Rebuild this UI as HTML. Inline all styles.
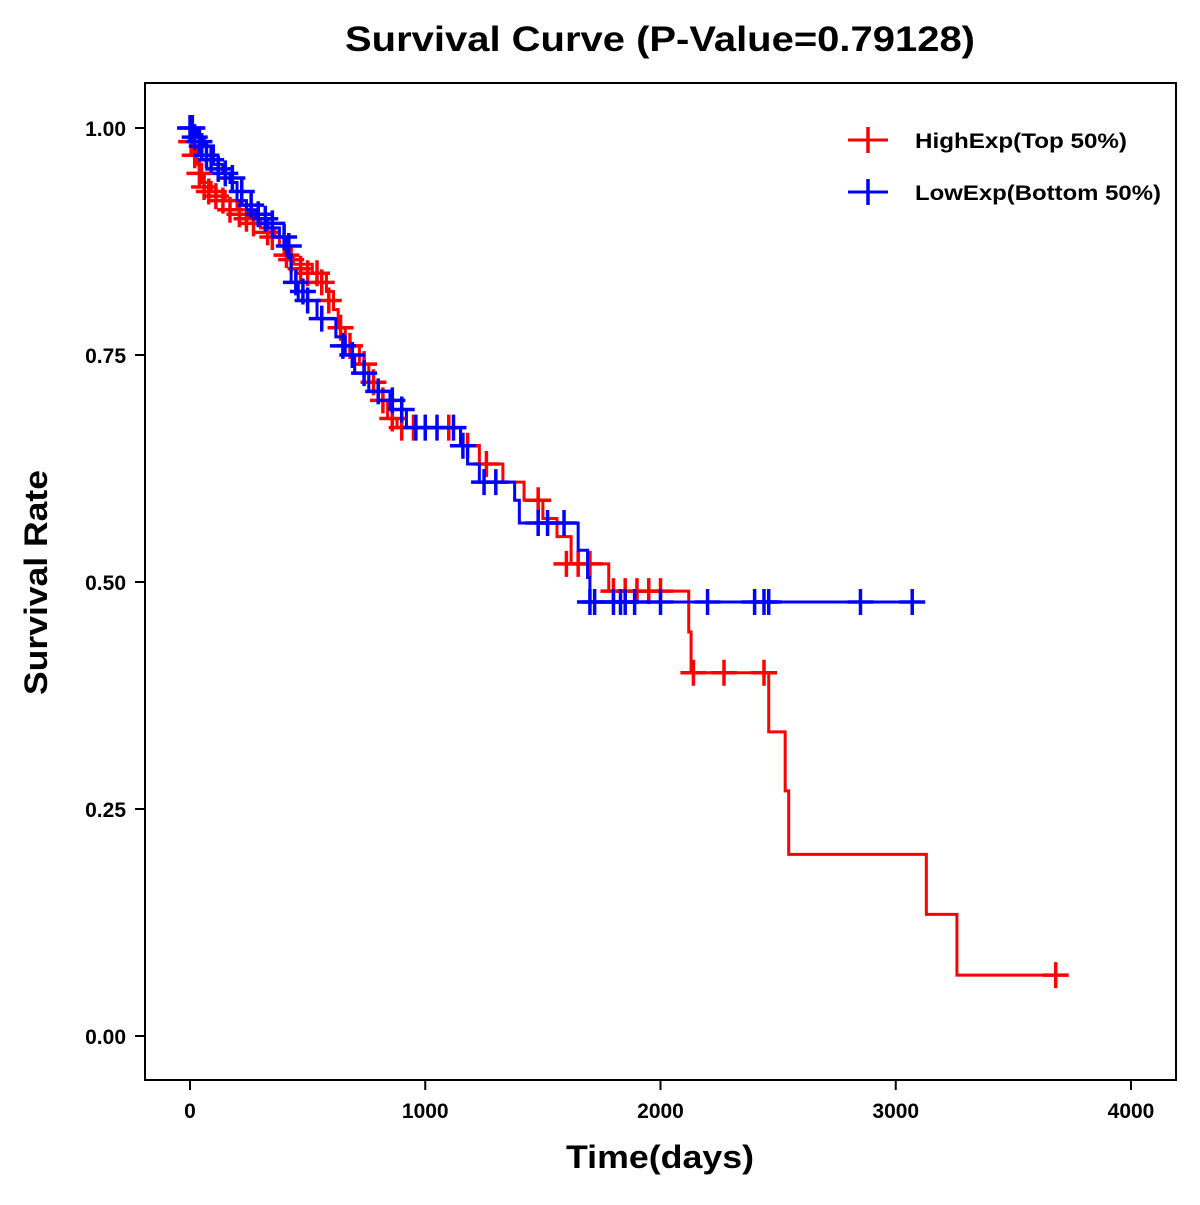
<!DOCTYPE html>
<html><head><meta charset="utf-8"><style>
body{margin:0;background:#fff}
svg text{font-family:"Liberation Sans",Arial,sans-serif;font-weight:bold}
</style></head><body>
<svg id="chart" width="1200" height="1200" xmlns="http://www.w3.org/2000/svg">
<text x="345" y="51" font-size="35" textLength="630" lengthAdjust="spacingAndGlyphs">Survival Curve (P-Value=0.79128)</text>
<rect x="145" y="83" width="1031" height="997" fill="none" stroke="#000" stroke-width="2"/>
<g id="axes"></g>
<g id="series"></g>
<text x="566" y="1168" font-size="32" textLength="188" lengthAdjust="spacingAndGlyphs">Time(days)</text>
<text transform="translate(47,695) rotate(-90)" font-size="32" textLength="225" lengthAdjust="spacingAndGlyphs">Survival Rate</text>
<g>
<g>
<line x1="848" y1="140" x2="888" y2="140" stroke="#f00" stroke-width="3"/><line x1="868" y1="127" x2="868" y2="153" stroke="#f00" stroke-width="3.5"/>
<text x="915" y="148" font-size="21" textLength="212" lengthAdjust="spacingAndGlyphs">HighExp(Top 50%)</text></g>
<g>
<line x1="848" y1="192" x2="888" y2="192" stroke="#00f" stroke-width="3"/><line x1="868" y1="179" x2="868" y2="205" stroke="#00f" stroke-width="3.5"/>
<text x="915" y="200" font-size="21" textLength="246" lengthAdjust="spacingAndGlyphs">LowExp(Bottom 50%)</text></g>
</g>
</svg>
<script>
const xTicks=[0,1000,2000,3000,4000];
const yTicks=[0,0.25,0.5,0.75,1.0];
const yTickLabels=["0.00","0.25","0.50","0.75","1.00"];
const highTimes=[0,10,30,50,90,150,200,250,300,360,380,400,440,520,580,610,630,660,720,760,800,840,880,1150,1230,1330,1420,1500,1560,1620,1780,2120,2130,2460,2530,2545,3130,3260];
const highSurv=[1,0.98,0.96,0.94,0.93,0.92,0.91,0.90,0.89,0.88,0.87,0.86,0.85,0.84,0.82,0.80,0.78,0.76,0.74,0.72,0.70,0.68,0.67,0.65,0.63,0.61,0.59,0.57,0.55,0.52,0.49,0.445,0.40,0.335,0.27,0.20,0.134,0.067];
const highEnd=3680;
const highCensT=[5,20,40,60,80,110,140,170,210,240,270,330,350,410,430,470,500,540,560,590,640,680,740,780,820,860,900,950,1000,1100,1180,1260,1480,1600,1650,1700,1800,1850,1900,1950,2000,2140,2270,2440,3680];
const highCensS=[0.985,0.97,0.95,0.935,0.93,0.925,0.92,0.91,0.905,0.9,0.895,0.885,0.88,0.86,0.855,0.845,0.84,0.84,0.83,0.81,0.78,0.76,0.74,0.72,0.70,0.68,0.67,0.67,0.67,0.67,0.65,0.63,0.59,0.52,0.52,0.52,0.49,0.49,0.49,0.49,0.49,0.40,0.40,0.40,0.067];
const lowTimes=[0,30,60,100,140,170,200,240,280,330,380,410,430,460,540,620,660,700,760,850,920,1150,1180,1230,1380,1400,1650,1690,1700];
const lowSurv=[1,0.99,0.98,0.96,0.95,0.94,0.92,0.91,0.90,0.89,0.88,0.86,0.83,0.81,0.79,0.77,0.75,0.73,0.71,0.69,0.67,0.65,0.63,0.61,0.59,0.565,0.535,0.505,0.478];
const lowEnd=3100;
const lowCensT=[0,10,20,40,50,70,90,120,150,180,220,260,290,320,350,400,420,450,480,500,560,650,690,740,800,860,900,960,1000,1050,1120,1160,1250,1300,1480,1520,1590,1700,1720,1800,1830,1850,1890,2000,2200,2400,2440,2460,2850,3070];
const lowCensS=[1,1,0.99,0.985,0.98,0.97,0.965,0.955,0.95,0.945,0.93,0.915,0.905,0.9,0.895,0.88,0.87,0.83,0.82,0.81,0.79,0.76,0.75,0.73,0.71,0.70,0.69,0.67,0.67,0.67,0.67,0.65,0.61,0.61,0.565,0.565,0.565,0.478,0.478,0.478,0.478,0.478,0.478,0.478,0.478,0.478,0.478,0.478,0.478,0.478];
const NS="http://www.w3.org/2000/svg";
const X=t=>190+t*0.23525, Y=s=>1036-s*908;
function mk(tag,attrs,parent){const e=document.createElementNS(NS,tag);for(const k in attrs)e.setAttribute(k,attrs[k]);parent.appendChild(e);return e;}
const axes=document.getElementById('axes');
xTicks.forEach(t=>{
  const l=mk('line',{x1:X(t),x2:X(t),y1:1080,y2:1090,stroke:'#000','stroke-width':2},axes);
  
  
  const tx=mk('text',{x:X(t),y:1118,'text-anchor':'middle','font-size':21},axes);tx.textContent=t;
  
  
});
yTicks.forEach((s,i)=>{
  const l=mk('line',{x1:135,x2:145,y1:Y(s),y2:Y(s),stroke:'#000','stroke-width':2},axes);
  
  
  const tx=mk('text',{x:126,y:Y(s)+8,'text-anchor':'end','font-size':21},axes);tx.textContent=yTickLabels[i];
  
  
});
const series=document.getElementById('series');
function draw(times,surv,end,ct,cs,color,name){
  let d='M'+X(times[0])+' '+Y(surv[0]);
  for(let i=1;i<times.length;i++){d+=' H'+X(times[i])+' V'+Y(surv[i]);}
  d+=' H'+X(end);
  const p=mk('path',{d:d,fill:'none',stroke:color,'stroke-width':3},series);
  
  
  ct.forEach((t,i)=>{
    const x=X(t),y=Y(cs[i]);
    const g=mk('path',{d:`M${x-13} ${y} H${x+13} M${x} ${y-13} V${y+13}`,stroke:color,'stroke-width':3.5,fill:'none'},series);
    
    
  });
}
draw(highTimes,highSurv,highEnd,highCensT,highCensS,'#f00','high-exp');
draw(lowTimes,lowSurv,lowEnd,lowCensT,lowCensS,'#00f','low-exp');
</script>
</body></html>
